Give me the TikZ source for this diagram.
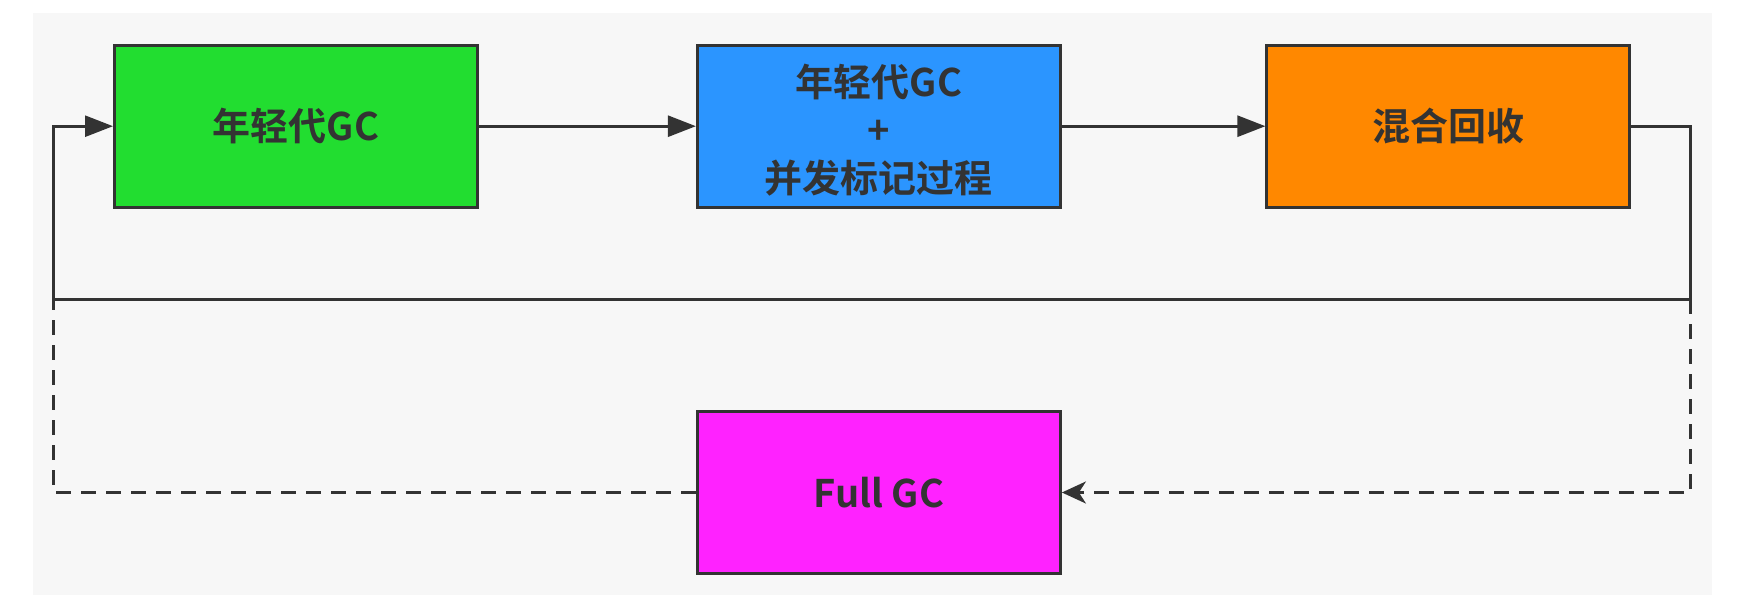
\documentclass[tikz,border=0pt]{standalone}
\usepackage{fontspec}
\newfontfamily\cjk{Noto Sans CJK SC}[BoldFont={Noto Sans CJK SC Bold}]
\usetikzlibrary{arrows.meta}
\definecolor{panelbg}{HTML}{F7F7F7}
\definecolor{ink}{HTML}{333333}
\definecolor{youngc}{HTML}{22DD30}
\definecolor{concc}{HTML}{2B95FF}
\definecolor{mixedc}{HTML}{FF8800}
\definecolor{fullc}{HTML}{FF22FF}
\tikzset{
  stage/.style={draw=ink, line width=3pt, minimum width=363pt, minimum height=162pt,
    inner sep=0pt, align=center, text=ink,
    font=\cjk\bfseries\fontsize{38}{48}\selectfont},
  flow/.style={draw=ink, line width=2.7pt},
  solidtip/.style={-{Triangle[length=28pt,width=21pt]}},
  loose/.style={draw=ink, line width=2.7pt, dash pattern=on 15pt off 10pt},
  loosetip/.style={-{Stealth[length=24pt,width=22pt,inset=7pt]}}
}
\begin{document}
\begin{tikzpicture}[x=1pt,y=1pt]
  \useasboundingbox (0,0) rectangle (1751,600);
  \fill[white] (0,0) rectangle (1751,600);
  \fill[panelbg] (33,5) rectangle (1712,587);

  % cycle stages
  \node[stage, fill=youngc] (young) at (296,473.8) {年轻代GC};
  \node[stage, fill=concc] (conc) at (878.9,473.8)
    {\raisebox{-9pt}[\height][\depth]{\begin{tabular}{@{}c@{}}年轻代GC\\+\\并发标记过程\end{tabular}}};
  \node[stage, fill=mixedc] (mixed) at (1448.4,473.8) {混合回收};
  \node[stage, fill=fullc] (full) at (878.9,107.5) {Full GC};

  % corners of the return loop
  \coordinate (rb) at (1690.7,300.7);
  \coordinate (lb) at (53.6,300.7);

  % main flow
  \draw[flow, solidtip] (young) -- (conc);
  \draw[flow, solidtip] (conc) -- (mixed);
  \draw[flow, solidtip] (mixed.east) -| (rb) -- (lb) |- (young.west);

  % fallback to Full GC
  \draw[loose, loosetip] (rb) |- (full.east);
  \draw[loose] (full.west) -| (lb);
\end{tikzpicture}
\end{document}
